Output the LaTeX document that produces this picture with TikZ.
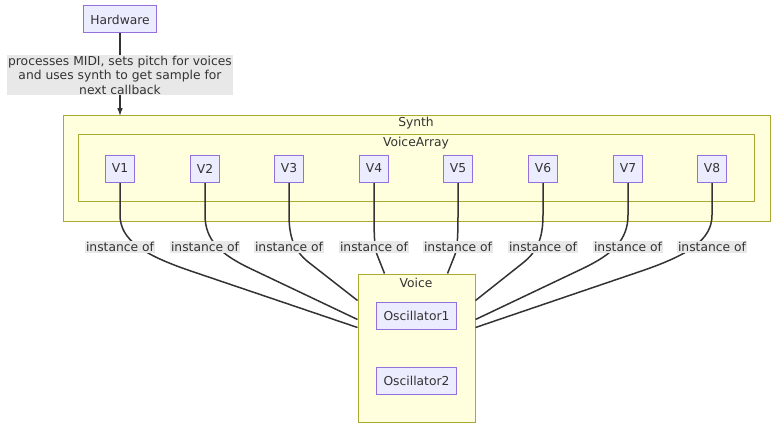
\documentclass[tikz,border=0pt]{standalone}
\usepackage{fontspec}
\setmainfont{DejaVu Sans}
\usetikzlibrary{calc}
\definecolor{nofill}{HTML}{ECECFF}
\definecolor{nolinha}{HTML}{9370DB}
\definecolor{grfill}{HTML}{FFFFDE}
\definecolor{grlinha}{HTML}{AAAA33}
\definecolor{escuro}{HTML}{333333}
\definecolor{rotfill}{HTML}{E8E8E8}
\pgfdeclarelayer{fundo}
\pgfdeclarelayer{arestas}
\pgfsetlayers{fundo,arestas,main}

\begin{document}
\begin{tikzpicture}[>=latex, x=1pt, y=-1pt,
    every node/.style={font=\fontsize{12.3}{14.5}\selectfont, text=escuro},
    bloco/.style={draw=nolinha, fill=nofill, line width=1pt, rectangle, minimum height=27pt, inner xsep=7pt},
    grupo/.style={draw=grlinha, fill=grfill, line width=1pt, rectangle, inner sep=0pt},
    rotulo/.style={fill=rotfill, inner sep=1pt, align=center},
    ligacao/.style={draw=escuro, line width=1.5pt}]

\useasboundingbox (0,0) rectangle (784,433);

% groups (drawn underneath)
\begin{pgfonlayer}{fundo}
\node[grupo, minimum width=707pt, minimum height=105pt] (synth) at (416.5,168.5) {};
\node[grupo, minimum width=676pt, minimum height=66pt] (varray) at (416,168) {};
\node[grupo, minimum width=117pt, minimum height=148pt] (voice) at (416.5,348) {};
\end{pgfonlayer}
\node (synthtit) at (416,123) {Synth};
\node (varraytit) at (416,143) {VoiceArray};
\node (voicetit) at (416,283) {Voice};

% Hardware on top
\node[bloco] (hw) at (120,19.5) {Hardware};
\node[rotulo] (lhw) at (120,75) {processes MIDI, sets pitch for voices\\and uses synth to get sample for\\next callback};

% the eight voices and their labels
\foreach \i/\x in {1/120,2/205,3/289,4/374,5/458,6/543,7/628,8/712} {
  \node[bloco, minimum width=29pt, inner xsep=0pt] (v\i) at (\x,168.5) {V\i};
  \node[rotulo] (l\i) at (\x,247) {instance of};
}

% Voice contents
\node[bloco, minimum width=79pt] (osc1) at (416.5,315.5) {Oscillator1};
\node[bloco, minimum width=79pt] (osc2) at (416.5,381) {Oscillator2};

% end points on the Voice border
\coordinate (e1) at ($(voice.north west)+(0,54)$);
\coordinate (e2) at ($(voice.north west)+(0,46)$);
\coordinate (e3) at ($(voice.north west)+(0,27)$);
\coordinate (e4) at ($(voice.north west)+(27,0)$);
\coordinate (e5) at ($(voice.north east)+(-28,0)$);
\coordinate (e6) at ($(voice.north east)+(0,27)$);
\coordinate (e7) at ($(voice.north east)+(0,46)$);
\coordinate (e8) at ($(voice.north east)+(0,54)$);

\begin{pgfonlayer}{arestas}
\draw[ligacao, ->] (hw) -- (hw |- synth.north);
\foreach \i/\x in {1/120,2/205,3/289,4/374,5/458,6/543,7/628,8/712}
  \draw[ligacao] (v\i.south) -- (\x,215) .. controls (\x,240) and ($(l\i.center)!0.1!(e\i)$) .. ($(l\i.center)!0.3!(e\i)$) -- (e\i);
\end{pgfonlayer}

\end{tikzpicture}
\end{document}
